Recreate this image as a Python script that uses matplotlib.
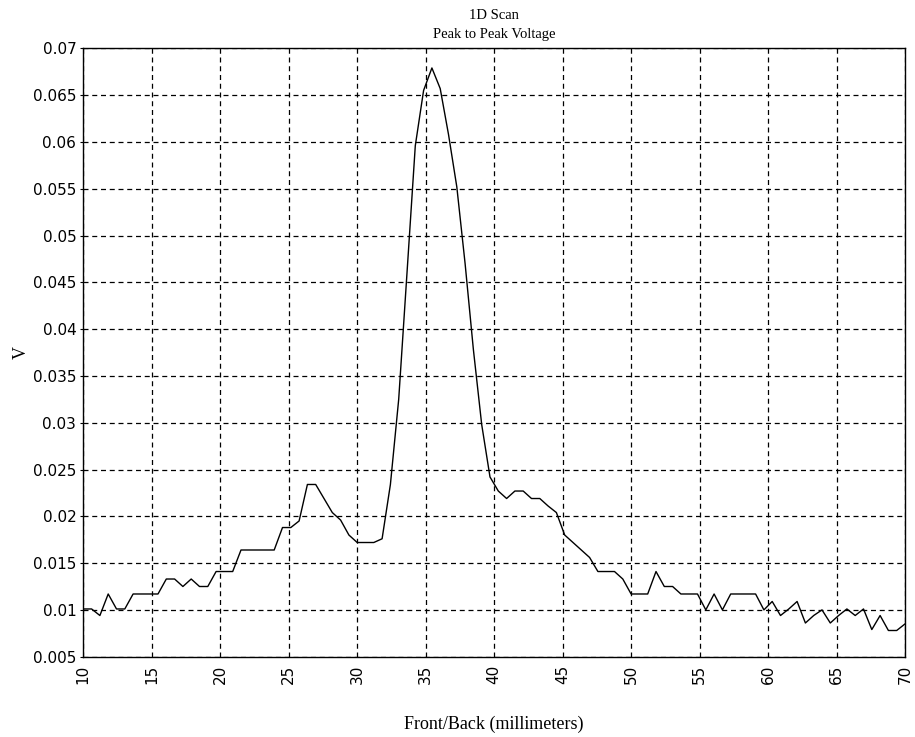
import numpy as np
import matplotlib
matplotlib.use("Agg")
import matplotlib.pyplot as plt

x_start, x_end, n_points = 10, 70, 100
voltage = [
    0.0101, 0.0101, 0.0094, 0.0117, 0.0101, 0.0101, 0.0117, 0.0117, 0.0117, 0.0117,
    0.0133, 0.0133, 0.0125, 0.0133, 0.0125, 0.0125, 0.0141, 0.0141, 0.0141, 0.0164,
    0.0164, 0.0164, 0.0164, 0.0164, 0.0188, 0.0188, 0.0195, 0.0234, 0.0234, 0.0219,
    0.0204, 0.0196, 0.0180, 0.0172, 0.0172, 0.0172, 0.0176, 0.0234, 0.0325, 0.0460,
    0.0596, 0.0655, 0.0679, 0.0657, 0.0608, 0.0552, 0.0470, 0.0378, 0.0298, 0.0242,
    0.0227, 0.0219, 0.0227, 0.0227, 0.0219, 0.0219, 0.0211, 0.0204, 0.0180, 0.0172,
    0.0164, 0.0156, 0.0141, 0.0141, 0.0141, 0.0133, 0.0117, 0.0117, 0.0117, 0.0141,
    0.0125, 0.0125, 0.0117, 0.0117, 0.0117, 0.0100, 0.0117, 0.0100, 0.0117, 0.0117,
    0.0117, 0.0117, 0.0100, 0.0109, 0.0094, 0.0101, 0.0109, 0.0086, 0.0094, 0.0100,
    0.0086, 0.0094, 0.0101, 0.0094, 0.0101, 0.0079, 0.0094, 0.0078, 0.0078, 0.0085,
]
x_ticks = [10, 15, 20, 25, 30, 35, 40, 45, 50, 55, 60, 65, 70]
y_ticks = [0.005, 0.01, 0.015, 0.02, 0.025, 0.03, 0.035, 0.04, 0.045, 0.05,
           0.055, 0.06, 0.065, 0.07]
y_tick_labels = ["0.005", "0.01", "0.015", "0.02", "0.025", "0.03", "0.035",
                 "0.04", "0.045", "0.05", "0.055", "0.06", "0.065", "0.07"]
title_lines = ["1D Scan", "Peak to Peak Voltage"]
x_label = "Front/Back (millimeters)"
y_label = "V"

position = np.linspace(x_start, x_end, n_points)

W, H = 915, 737
fig = plt.figure(figsize=(W / 100, H / 100), dpi=100)
left, right, top, bottom = 83.3, 905, 48.3, 656.7
ax = fig.add_axes([left / W, 1 - bottom / H, (right - left) / W, (bottom - top) / H])

ax.plot(position, voltage, color='black', linewidth=1.0)

ax.set_xlim(x_start, x_end)
ax.set_ylim(0.005, 0.07)
ax.set_xticks(x_ticks)
ax.set_xticklabels([str(t) for t in x_ticks], rotation=90,
                   family='DejaVu Sans', fontsize=11)
ax.set_yticks(y_ticks)
ax.set_yticklabels(y_tick_labels, family='DejaVu Sans', fontsize=11)
ax.tick_params(axis='x', length=0, pad=6, colors='black')
ax.tick_params(axis='y', length=2, width=0.8, pad=3, colors='black')

ax.grid(True, color='black', linestyle=(0, (4, 3)), linewidth=0.9)
for s in ax.spines.values():
    s.set_color('black')
    s.set_linewidth(1.0)

serif = ['Liberation Serif', 'DejaVu Serif']
cx = (left + right) / 2 / W
fig.text(cx, 1 - 19.3 / H, title_lines[0], family=serif, fontsize=10.5,
         ha='center', va='baseline')
fig.text(cx, 1 - 38.3 / H, title_lines[1], family=serif, fontsize=10.5,
         ha='center', va='baseline')
fig.text(cx, 1 - 724 / H, x_label, family=serif, fontsize=13,
         ha='center', va='center')
fig.text(21 / W, 1 - ((top + bottom) / 2) / H, y_label, family=serif, fontsize=13,
         ha='center', va='center', rotation=90)

fig.savefig("out.png", dpi=100, facecolor='white')
